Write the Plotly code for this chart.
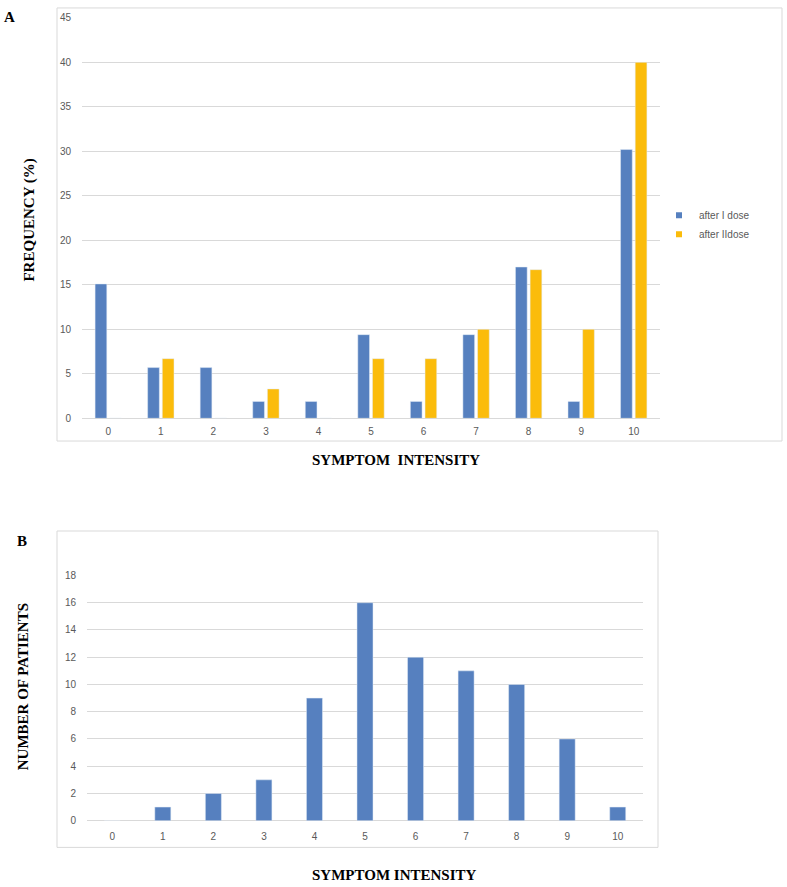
import plotly.graph_objects as go

# ---- data ----
intensity = list(range(11))
tick_labels = [str(i) for i in intensity]
after_first_dose = [15.1, 5.7, 5.7, 1.9, 1.9, 9.4, 1.9, 9.4, 17.0, 1.9, 30.2]
after_second_dose = [0, 6.7, 0, 3.3, 0, 6.7, 6.7, 10.0, 16.7, 10.0, 40.0]
patients = [0, 1, 2, 3, 9, 16, 12, 11, 10, 6, 1]
series_names = ["after I dose", "after IIdose"]

W, H = 787, 887
BLUE = "#5680BF"
YELLOW = "#FBBC0B"
GRID = "#D9D9D9"
TICK = "#595959"

def px_x(p):
    return p / W

def px_y(p):
    return 1 - p / H

fig = go.Figure()

# Chart A bars
fig.add_trace(go.Bar(x=intensity, y=after_first_dose, marker_color=BLUE,
                     width=0.223, offset=-0.251, showlegend=False,
                     xaxis="x", yaxis="y", name=series_names[0]))
fig.add_trace(go.Bar(x=intensity, y=after_second_dose, marker_color=YELLOW,
                     width=0.223, offset=0.028, showlegend=False,
                     xaxis="x", yaxis="y", name=series_names[1]))
# legend entries (small square keys)
for nm, col in zip(series_names, [BLUE, YELLOW]):
    fig.add_trace(go.Scatter(x=[None], y=[None], mode="markers", name=nm,
                             marker=dict(symbol="square", size=6, color=col),
                             xaxis="x", yaxis="y"))

# Chart B bars
fig.add_trace(go.Bar(x=intensity, y=patients, marker_color=BLUE, width=0.317,
                     showlegend=False, xaxis="x2", yaxis="y2"))

tickfont = dict(family="Liberation Sans, Arial, sans-serif", size=10, color=TICK)
titlefont = dict(family="Liberation Serif, Times New Roman, serif", size=15, color="#000000")


def label(text, x, y, angle=0, font=titlefont):
    return dict(text=text, x=px_x(x), y=px_y(y), xref="paper", yref="paper",
                xanchor="center", yanchor="middle", showarrow=False,
                textangle=angle, font=font)


fig.update_layout(
    width=W, height=H,
    margin=dict(l=0, r=0, t=0, b=0),
    paper_bgcolor="white", plot_bgcolor="white",
    barmode="overlay",
    showlegend=True,
    legend=dict(x=px_x(659), y=px_y(198), xanchor="left", yanchor="top",
                font=dict(family="Liberation Sans, Arial, sans-serif", size=10, color=TICK),
                itemwidth=30, tracegroupgap=0, bgcolor="rgba(0,0,0,0)"),
    xaxis=dict(domain=[px_x(82), px_x(660)], range=[-0.5, 10.5],
               tickmode="array", tickvals=intensity, ticktext=tick_labels,
               showgrid=False, zeroline=False, showline=False, ticks="",
               tickfont=tickfont, anchor="y", ticklabelstandoff=6),
    yaxis=dict(domain=[px_y(418), px_y(13)], range=[0, 45], dtick=5,
               showgrid=True, gridcolor=GRID, gridwidth=1,
               zeroline=True, zerolinecolor=GRID, zerolinewidth=1,
               showline=False, ticks="", tickfont=tickfont, anchor="x",
               ticklabelstandoff=10),
    xaxis2=dict(domain=[px_x(87), px_x(643)], range=[-0.5, 10.5],
                tickmode="array", tickvals=intensity, ticktext=tick_labels,
                showgrid=False, zeroline=False, showline=False, ticks="",
                tickfont=tickfont, anchor="y2", ticklabelstandoff=8),
    yaxis2=dict(domain=[px_y(825), px_y(577)], range=[0, 18], dtick=2,
                showgrid=True, gridcolor=GRID, gridwidth=1,
                zeroline=True, zerolinecolor=GRID, zerolinewidth=1,
                showline=False, ticks="", tickfont=tickfont, anchor="x2",
                ticklabelstandoff=10),
    shapes=[
        dict(type="rect", xref="paper", yref="paper",
             x0=px_x(57), x1=px_x(782), y0=px_y(441), y1=px_y(3),
             line=dict(color=GRID, width=1), fillcolor="rgba(0,0,0,0)", layer="below"),
        dict(type="rect", xref="paper", yref="paper",
             x0=px_x(57), x1=px_x(658), y0=px_y(852), y1=px_y(532),
             line=dict(color=GRID, width=1), fillcolor="rgba(0,0,0,0)", layer="below"),
    ],
    annotations=[
        label("<b>A</b>", 9, 12),
        label("<b>B</b>", 22, 542),
        label("<b>FREQUENCY (%)</b>", 30, 218, angle=-90),
        label("<b>SYMPTOM\u00a0\u00a0INTENSITY</b>", 396, 460),
        label("<b>NUMBER OF PATIENTS</b>", 23, 690, angle=-90),
        label("<b>SYMPTOM INTENSITY</b>", 394, 880),
    ],
)

fig.write_html("out.html")
